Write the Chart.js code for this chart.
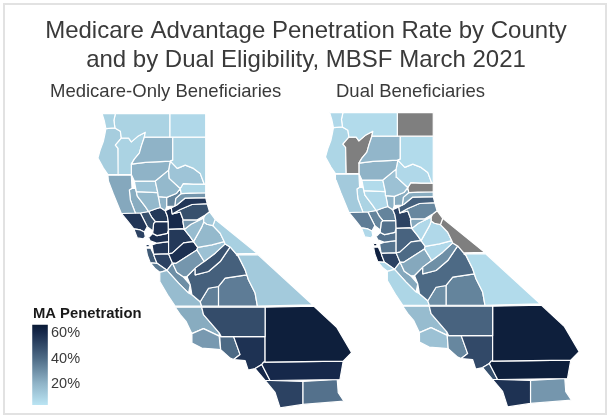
<!DOCTYPE html>
<html><head><meta charset="utf-8">
<script src="https://cdn.jsdelivr.net/npm/chart.js@4"></script>
<style>
html,body{margin:0;padding:0;background:#fff}
#wrap{position:relative;width:611px;height:419px;overflow:hidden}
#frame{position:absolute;left:3px;top:3px;width:600px;height:408px;border:2px solid #e2e2e2;pointer-events:none}
canvas{position:absolute;left:0;top:0}
</style></head>
<body><div id="wrap"><canvas id="c" width="611" height="419"></canvas><div id="frame"></div></div>
<script>
const titleLines = ["Medicare Advantage Penetration Rate by County","and by Dual Eligibility, MBSF March 2021"];
const panelNames = ["Medicare-Only Beneficiaries","Dual Beneficiaries"];
const legendTitle = "MA Penetration";
const legendTicks = [20,40,60];

const counties = ["Del Norte","Siskiyou","Modoc","Lassen","Shasta","Trinity","Humboldt","Mendocino","Tehama","Plumas","Butte","Sierra","Glenn","Colusa","Lake","Yuba","Sutter","Nevada","Placer","El Dorado","Alpine","Mono","Inyo","Amador","Calaveras","Tuolumne","Mariposa","Madera","Merced","Stanislaus","San Joaquin","Sacramento","Fresno","Kings","Tulare","Kern","San Bernardino","Riverside","Imperial","San Diego","Orange","Los Angeles","Ventura","Santa Barbara","San Luis Obispo","Monterey","San Benito","Santa Cruz","Santa Clara","San Mateo","San Francisco","Marin","Sonoma","Napa","Yolo","Solano","Contra Costa","Alameda"];
const medicareOnly = [9,9,7,9,20,9,11,23,20,14,18,8,14,18,22,33,20,28,56,48,13,10,12,28,17,18,15,47,28,58,55,60,43,34,35,49,64,60,38,52,60,57,40,27,22,17,30,36,52,45,55,52,56,48,55,58,58,56];
const dualEligible = [7,6,null,6,19,null,8,12,20,7,15,null,6,7,9,22,20,22,43,32,null,null,6,23,7,7,7,30,23,40,42,52,40,30,33,42,64,64,28,57,48,50,32,15,17,8,23,7,52,63,66,7,35,33,33,38,38,37];

/* county outlines in map units, same order as counties */
const outlines = [
[[101.7,113.3],[115,113.3],[113.5,120],[114.5,127.7],[105.5,128.3],[104,121]],
[[115,113.3],[169.5,113.3],[169.5,137],[144,137],[145,132],[138,135.7],[131,141.7],[128.3,138],[121,138],[120,131],[114.5,127.7],[113.5,120]],
[[169.5,113.3],[205.5,113.3],[205.5,137],[169.5,137]],
[[172.5,137],[205.5,137],[205.5,184],[204,184],[200,173.3],[193.3,168.3],[185,165],[177,168.3],[170,161],[172.5,160]],
[[144,137],[172.5,137],[172.5,160],[170,161],[145,162.3],[131,164],[134,159],[139,153],[141,146]],
[[121,138],[128.3,138],[131,141.7],[138,135.7],[145,132],[144,137],[141,146],[139,153],[134,159],[131,164],[131,174.5],[118.3,174.5],[117.7,148.3],[115,145]],
[[105.5,128.3],[114.5,127.7],[120,131],[121,138],[115,145],[117.7,148.3],[118.3,174.5],[107.5,174.5],[103,168],[97.5,158],[100,149],[103,141],[104.5,134]],
[[107.5,175],[131,175],[131.7,188.3],[129,190],[130,200],[135,213],[121,213.5],[113,194],[108,181]],
[[131,164],[145,162.3],[170,161],[168.3,170],[155,181],[134,181],[131,174.5]],
[[170,161],[177,168.3],[185,165],[193.3,168.3],[200,173.3],[204,184],[193.3,184],[183,183.5],[180,188.5],[169,178.3],[168.3,170]],
[[155,181],[168.3,170],[169,178.3],[180,188.5],[176,193.5],[166.5,197.3],[158,196.5],[157.5,192.5]],
[[183,183.5],[193.3,184],[205.5,184],[205.5,192.7],[190,193],[181,193.5],[180,188.5]],
[[134,181],[155,181],[157.5,192.5],[136,191.5]],
[[136,191.5],[157.5,192.5],[158,196.5],[160,207.5],[155,209],[148.3,211.5],[145,206.7],[137,196]],
[[131.7,188.3],[135,188],[136,191.5],[137,196],[145,206.7],[148.3,211.5],[140,213],[135,213],[130,200],[129,190]],
[[166.5,197.3],[176,193.5],[180,188.5],[181,193.5],[175.5,198.3],[174.5,206],[166.5,206.5]],
[[158,196.5],[166.5,197.3],[166.5,206.5],[165,210.7],[160,207.5]],
[[181,193.5],[190,193],[205.5,192.7],[205.5,197.5],[185,198],[176.5,205],[174.5,206],[175.5,198.3]],
[[176.5,205],[185,198],[205.5,197.5],[207,203.7],[191.7,204.5],[180,209.5],[172,214],[171,208]],
[[172,214],[180,209.5],[191.7,204.5],[207,203.7],[209.3,211.7],[205,215],[196.7,220],[183,220],[180,212]],
[[205,215],[209.3,211.7],[215,219.3],[212.7,225.7],[206.7,224.3],[203.5,222],[203.5,218]],
[[215,219.3],[257,253.5],[236,254],[230,247],[225,244],[224,241.7],[220,233.3],[212.7,225.7]],
[[236,255],[258,255],[312.7,305],[257.3,306.5],[255,293.3],[248.3,280],[246.7,275],[245,270],[238.3,256.5]],
[[183,220],[196.7,220],[203.5,218],[190.7,224.3],[184,229.5],[182.7,221.7]],
[[184,229.5],[190.7,224.3],[203.5,218],[203.5,222],[201.7,226.7],[193.3,241.7],[190,237]],
[[193.3,241.7],[201.7,226.7],[203.5,222],[206.7,224.3],[212.7,225.7],[220,233.3],[224,241.7],[211.7,245],[197.5,247.5]],
[[197.5,247.5],[211.7,245],[224,241.7],[225,244],[215,253.3],[204,261.7],[196.7,250]],
[[195,268.3],[204,261.7],[215,253.3],[225,244],[230,247],[220,261.7],[208.3,271.7],[195,275]],
[[172.3,263.3],[176,263.5],[196.7,250],[204,261.7],[195,268.3],[186.7,276.7],[183,277],[176.5,272.5]],
[[168.3,254],[172,253.3],[183.3,243],[193.3,241.7],[197.5,247.5],[196.7,250],[176,263.5],[172.3,263.3]],
[[168.3,229.5],[181.7,229],[184,229.5],[190,237],[193.3,241.7],[183.3,243],[172,253.3],[168.3,254]],
[[165,210.7],[171,208],[172,214],[180,212],[183,220],[182.7,221.7],[184,229.5],[181.7,229],[168.3,229.5],[168,221.7],[167,215.7]],
[[186.7,276.7],[195,268.3],[195,275],[208.3,271.7],[220,261.7],[230,247],[236,254],[238.3,256.5],[245,270],[246.7,275],[225,278.3],[218.3,286.7],[208.3,288.5],[200,302],[191.7,295],[190,285]],
[[208.3,288.5],[218.3,286.7],[218.3,306.5],[201.5,306.5],[200,302]],
[[218.3,286.7],[225,278.3],[246.7,275],[248.3,280],[255,293.3],[257.3,306.5],[218.3,306.5]],
[[201.5,307.5],[265,307.5],[265,337],[221,337],[219.3,333.5],[203.3,315]],
[[265,307.5],[314,306.5],[337,328],[351.7,353],[343.3,361.5],[265,362.5]],
[[263.5,362.5],[343.3,361.5],[340,380],[270,381],[261.7,365]],
[[303,382],[337.3,380],[338.3,393.3],[344,401.7],[303,405]],
[[265,381],[270,381],[303,382],[303,405],[280,408.5],[275,393]],
[[255,369],[261.7,365],[270,381],[265,381]],
[[233.5,337],[265,337],[265,362.5],[263.5,362.5],[261.7,365],[255,369],[248,370.5],[245,361],[233.5,360],[240,355]],
[[219.5,336.5],[221,337],[233.5,337],[240,355],[233.5,360],[230,358.5],[220.5,350]],
[[191.7,334],[203.3,329],[219,336.5],[219.5,336.5],[220.5,350],[201.5,348.5],[191.7,343.5]],
[[175,307.5],[201.5,307.5],[203.3,315],[219.3,333.5],[219,336.5],[203.3,329],[191.7,334],[186,322],[180,315]],
[[159.5,281.7],[159.5,272.5],[166.7,270.5],[178.3,283.3],[188.3,293.3],[191.7,295],[200,302],[201.5,306.5],[175,306.5],[168.3,296.7]],
[[166.7,270.5],[172.3,263.3],[176.5,272.5],[183,277],[190,285],[188.3,293.3],[178.3,283.3]],
[[150,263],[156.7,263.5],[166.7,270.5],[159.5,272.5],[155,269]],
[[153.3,254.5],[168.3,254],[172.3,263.3],[166.7,270.5],[156.7,263.5],[154.5,258]],
[[145.7,248.3],[150.5,248.3],[153.3,254.5],[154.5,258],[156.7,263.5],[150,263],[147,255]],
[[145.7,244.5],[149,244.5],[149,247],[145.7,247]],
[[133.5,229],[140,230],[144,232],[145,236.7],[143,239],[137,238]],
[[121,213.5],[135,213],[140,213],[147,226.7],[144,232],[140,230],[133.5,229],[128,222]],
[[140,213],[148.3,211.5],[151.7,217.7],[155,221.7],[153.3,223.5],[152.5,231],[147,226.7]],
[[148.3,211.5],[155,209],[160,207.5],[165,210.7],[167,215.7],[168,221.7],[155,221.7],[151.7,217.7]],
[[153.3,223.5],[155,221.7],[168,221.7],[168.3,229.5],[167,233.5],[156.7,235.7],[152.5,233.5],[152.5,231]],
[[148.3,237.7],[152.5,233.5],[156.7,235.7],[167,233.5],[168.3,229.5],[168.3,241.7],[156.7,243.3],[150,241]],
[[151.7,245],[156.7,243.3],[168.3,241.7],[168.3,254],[153.3,254.5]]
];

const rampValues = [3,20,40,60,66];
const rampColors = [[186,228,243],[143,179,199],[77,106,133],[22,40,74],[10,26,53]];
const missingColor = "#7f7f7f";
const ink = "#3a3a3a";

function colorFor(v){
  if(v===null) return missingColor;
  for(let i=1;i<rampValues.length;i++){
    if(v<=rampValues[i]){
      const t=(v-rampValues[i-1])/(rampValues[i]-rampValues[i-1]);
      const c=rampColors[i-1].map((a,k)=>Math.round(a+(rampColors[i][k]-a)*t));
      return `rgb(${c.join(",")})`;
    }
  }
  return `rgb(${rampColors[rampColors.length-1].join(",")})`;
}
const toPts = o => o.concat([o[0]]).map(p=>({x:p[0],y:p[1]}));
function panel(values,xAxisID,yAxisID){
  return counties.map((name,i)=>({
    label:name+" ",data:toPts(outlines[i]),showLine:true,fill:'shape',tension:0,
    backgroundColor:colorFor(values[i]),borderColor:"#ffffff",borderWidth:1.2,
    pointRadius:0,xAxisID,yAxisID,borderJoinStyle:'round'
  }));
}
/* colour bar drawn through its own value axis */
const barBottom=3, barTop=66, barX0=31.7, barX1=47.3;
const barDataset={
  label:"bar",
  data:[{x:barX0,y:barBottom},{x:barX1,y:barBottom},{x:barX1,y:barTop},{x:barX0,y:barTop},{x:barX0,y:barBottom}],
  showLine:true,fill:'shape',tension:0,pointRadius:0,borderWidth:0,borderColor:'transparent',
  xAxisID:'xL',yAxisID:'yBar',
  backgroundColor(ctx){
    const s=ctx.chart.scales.yBar;
    const y0=s?s.getPixelForValue(barBottom):NaN, y1=s?s.getPixelForValue(barTop):NaN;
    if(!isFinite(y0)||!isFinite(y1)) return "#4d6a85";
    const g=ctx.chart.ctx.createLinearGradient(0,y0,0,y1);
    rampValues.forEach(v=>g.addColorStop((v-barBottom)/(barTop-barBottom),colorFor(v)));
    return g;
  }
};
const tickMarks=[];
legendTicks.forEach(v=>{
  [[barX0,barX0+3],[barX1-3,barX1]].forEach(([a,b])=>tickMarks.push({
    label:"tick",data:[{x:a,y:v},{x:b,y:v}],showLine:true,fill:false,pointRadius:0,
    borderColor:"rgba(255,255,255,0.6)",borderWidth:1,xAxisID:'xL',yAxisID:'yBar'
  }));
});
const textPlugin={id:'texts',afterDraw(chart){
  const c=chart.ctx; c.save();
  c.textBaseline='alphabetic'; c.fillStyle=ink;
  c.textAlign='center'; c.font='24px "Liberation Sans"';
  c.fillText(titleLines[0],306,38); c.fillText(titleLines[1],306,67);
  c.textAlign='left'; c.font='18.5px "Liberation Sans"';
  c.fillText(panelNames[0],50,97); c.fillText(panelNames[1],336,97);
  c.fillStyle='#1a1a1a'; c.font='bold 14.8px "Liberation Sans"';
  c.fillText(legendTitle,33,318);
  c.fillStyle=ink; c.font='14.5px "Liberation Sans"';
  const s=chart.scales.yBar;
  legendTicks.forEach(v=>c.fillText(v+"%",51,s.getPixelForValue(v)+5));
  c.restore();
}};
const hidden=(min,max,reverse)=>({type:'linear',display:false,min,max,reverse:!!reverse});
const chart=new Chart(document.getElementById('c'),{
  type:'scatter',
  data:{datasets:[...panel(medicareOnly,'xL','yL'),...panel(dualEligible,'xR','yR'),barDataset,...tickMarks]},
  options:{
    responsive:false,animation:false,layout:{padding:0},
    plugins:{legend:{display:false},title:{display:false},tooltip:{enabled:false}},
    scales:{
      xL:hidden(0,611),xR:hidden(-228,383),
      yL:hidden(0,419,true),yR:hidden(1,420,true),
      yBar:hidden(-7.6,321)
    }
  },
  plugins:[textPlugin]
});
chart.update();
</script></body></html>
